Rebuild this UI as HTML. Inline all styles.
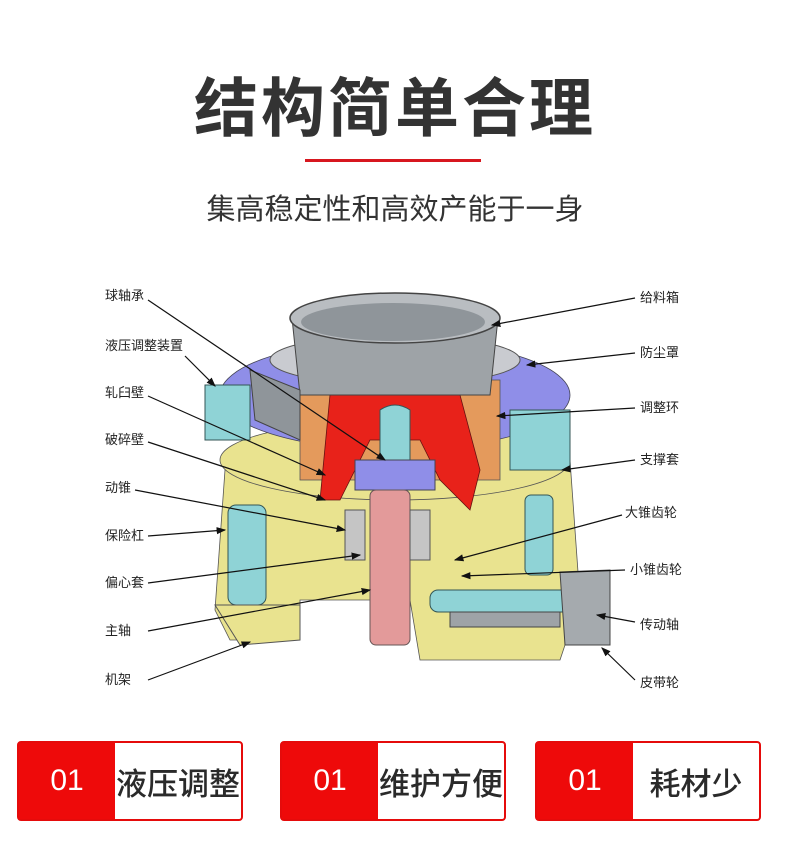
<!DOCTYPE html>
<html><head><meta charset="utf-8"><style>
body{margin:0;width:790px;height:855px;background:#fff;font-family:"Liberation Sans","Noto Sans CJK SC",sans-serif;position:relative;overflow:hidden}
.t{position:absolute;left:0;width:790px;text-align:center;color:#333}
.lab{position:absolute;font-size:13px;color:#222;white-space:nowrap}
.btn{position:absolute;top:741px;height:80px;width:226px;border:2px solid #e50b0b;border-radius:4px;box-sizing:border-box;display:flex;background:#fff}
.btn .n{width:96px;background:#ee0a0a;color:#fff;font-size:30px;display:flex;align-items:center;justify-content:center}
.btn .s{flex:1;display:flex;align-items:center;justify-content:center;font-size:31px;color:#2a2a2a;font-weight:500}
</style></head><body>
<div class="t" style="top:58px;font-size:64px;font-weight:bold;letter-spacing:3px">结构简单合理</div>
<div style="position:absolute;left:305px;top:159px;width:176px;height:3px;background:#d7171f"></div>
<div class="t" style="top:186px;font-size:29px">集高稳定性和高效产能于一身</div>
<svg style="position:absolute;left:0;top:0" width="790" height="740">
<defs><marker id="a" markerWidth="8" markerHeight="8" refX="7" refY="4" orient="auto"><path d="M0,1 L8,4 L0,7z" fill="#111"/></marker></defs>
<path d="M225,470 L570,460 L580,600 L560,660 L420,660 L410,600 L300,600 L300,640 L230,640 L215,610 Z" fill="#e9e38f" stroke="#555" stroke-width="0.8"/>
<ellipse cx="395" cy="460" rx="175" ry="40" fill="#e9e38f" stroke="#555" stroke-width="0.8"/>
<ellipse cx="395" cy="395" rx="175" ry="55" fill="#8f8ee8" stroke="#445" stroke-width="0.8"/>
<ellipse cx="395" cy="360" rx="125" ry="25" fill="#c9cbd0" stroke="#555"/>
<rect x="300" y="380" width="200" height="100" fill="#e49a5c" stroke="#555" stroke-width="0.8"/>
<path d="M330,395 L460,395 L480,470 L470,510 L440,480 L420,440 L370,440 L340,500 L320,500 Z" fill="#e8221a" stroke="#611" stroke-width="0.8"/>
<path d="M380,410 Q395,400 410,410 L410,460 L380,460 Z" fill="#8fd3d6" stroke="#355"/>
<rect x="355" y="460" width="80" height="30" fill="#8f8ee8" stroke="#445"/>
<path d="M292,318 L498,318 L490,395 L300,395 Z" fill="#9ea3a7" stroke="#444"/>
<ellipse cx="395" cy="318" rx="105" ry="25" fill="#b9bdc1" stroke="#444" stroke-width="1.5"/>
<ellipse cx="393" cy="322" rx="92" ry="19" fill="#8f959a"/>
<path d="M250,370 L300,390 L300,440 L255,420 Z" fill="#8f959a" stroke="#444"/>
<rect x="370" y="490" width="40" height="155" rx="6" fill="#e39a9a" stroke="#655"/>
<rect x="345" y="510" width="20" height="50" fill="#c5c5c5" stroke="#555"/>
<rect x="410" y="510" width="20" height="50" fill="#c5c5c5" stroke="#555"/>
<rect x="205" y="385" width="45" height="55" fill="#8fd3d6" stroke="#355"/>
<rect x="228" y="505" width="38" height="100" rx="8" fill="#8fd3d6" stroke="#355"/>
<path d="M215,605 L300,605 L300,640 L240,645 Z" fill="#e9e38f" stroke="#555"/>
<rect x="510" y="410" width="60" height="60" fill="#8fd3d6" stroke="#355"/>
<rect x="525" y="495" width="28" height="80" rx="6" fill="#8fd3d6" stroke="#355"/>
<rect x="430" y="590" width="170" height="22" rx="8" fill="#8fd3d6" stroke="#355"/>
<rect x="450" y="612" width="110" height="15" fill="#9ea3a7" stroke="#444"/>
<path d="M560,572 L610,570 L610,645 L565,645 Z" fill="#a5aaae" stroke="#444"/>
<g stroke="#111" stroke-width="1.2" fill="none" marker-end="url(#a)">
<line x1="148" y1="300" x2="385" y2="460"/>
<line x1="185" y1="356" x2="215" y2="386"/>
<line x1="148" y1="396" x2="325" y2="475"/>
<line x1="148" y1="442" x2="325" y2="500"/>
<line x1="135" y1="490" x2="345" y2="530"/>
<line x1="148" y1="536" x2="225" y2="530"/>
<line x1="148" y1="583" x2="360" y2="555"/>
<line x1="148" y1="631" x2="370" y2="590"/>
<line x1="148" y1="680" x2="250" y2="642"/>
<line x1="635" y1="298" x2="492" y2="325"/>
<line x1="635" y1="353" x2="527" y2="365"/>
<line x1="635" y1="408" x2="497" y2="416"/>
<line x1="635" y1="460" x2="562" y2="470"/>
<line x1="622" y1="515" x2="455" y2="560"/>
<line x1="625" y1="570" x2="462" y2="576"/>
<line x1="635" y1="622" x2="597" y2="615"/>
<line x1="635" y1="680" x2="602" y2="648"/>
</g>
</svg>
<div class="lab" style="left:105px;top:285px">球轴承</div>
<div class="lab" style="left:105px;top:335px">液压调整装置</div>
<div class="lab" style="left:105px;top:382px">轧臼壁</div>
<div class="lab" style="left:105px;top:429px">破碎壁</div>
<div class="lab" style="left:105px;top:477px">动锥</div>
<div class="lab" style="left:105px;top:525px">保险杠</div>
<div class="lab" style="left:105px;top:572px">偏心套</div>
<div class="lab" style="left:105px;top:620px">主轴</div>
<div class="lab" style="left:105px;top:669px">机架</div>
<div class="lab" style="left:640px;top:287px">给料箱</div>
<div class="lab" style="left:640px;top:342px">防尘罩</div>
<div class="lab" style="left:640px;top:397px">调整环</div>
<div class="lab" style="left:640px;top:449px">支撑套</div>
<div class="lab" style="left:625px;top:502px">大锥齿轮</div>
<div class="lab" style="left:630px;top:559px">小锥齿轮</div>
<div class="lab" style="left:640px;top:614px">传动轴</div>
<div class="lab" style="left:640px;top:672px">皮带轮</div>
<div class="btn" style="left:17px"><div class="n">01</div><div class="s">液压调整</div></div>
<div class="btn" style="left:280px"><div class="n">01</div><div class="s">维护方便</div></div>
<div class="btn" style="left:535px"><div class="n">01</div><div class="s">耗材少</div></div>
</body></html>
